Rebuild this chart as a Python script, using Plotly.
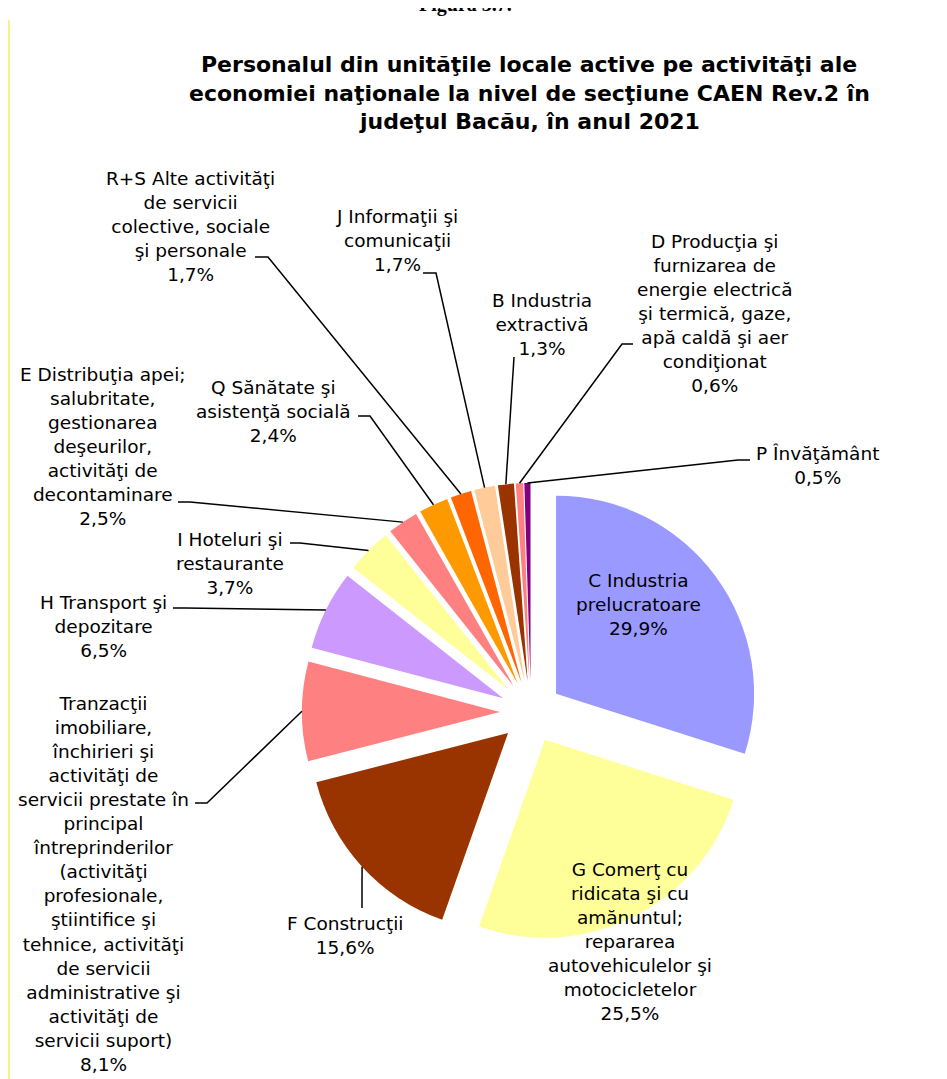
import math
import plotly.graph_objects as go

# ---------------- data ----------------
codes = ["C", "G", "F", "T", "H", "I", "E", "Q", "RS", "J", "B", "D", "P"]
label_texts = [
    "C Industria<br>prelucratoare",
    "G Comerţ cu<br>ridicata şi cu<br>amănuntul;<br>repararea<br>autovehiculelor şi<br>motocicletelor",
    "F Construcţii",
    "Tranzacţii<br>imobiliare,<br>închirieri şi<br>activităţi de<br>servicii prestate în<br>principal<br>întreprinderilor<br>(activităţi<br>profesionale,<br>ştiintifice şi<br>tehnice, activităţi<br>de servicii<br>administrative şi<br>activităţi de<br>servicii suport)",
    "H Transport şi<br>depozitare",
    "I Hoteluri şi<br>restaurante",
    "E Distribuţia apei;<br>salubritate,<br>gestionarea<br>deşeurilor,<br>activităţi de<br>decontaminare",
    "Q Sănătate şi<br>asistenţă socială",
    "R+S Alte activităţi<br>de servicii<br>colective, sociale<br>şi personale",
    "J Informaţii şi<br>comunicaţii",
    "B Industria<br>extractivă",
    "D Producţia şi<br>furnizarea de<br>energie electrică<br>şi termică, gaze,<br>apă caldă şi aer<br>condiţionat",
    "P Învăţământ",
]
values = [29.9, 25.5, 15.6, 8.1, 6.5, 3.7, 2.5, 2.4, 1.7, 1.7, 1.3, 0.6, 0.5]
colors = ["#9999FF", "#FFFF99", "#993300", "#FF8080", "#CC99FF", "#FFFF99",
          "#FF8080", "#FF9900", "#FF6600", "#FFCC99", "#993300", "#FF8080", "#800080"]

title_lines = [
    "Personalul din unităţile locale active pe activităţi ale",
    "economiei naţionale la nivel de secţiune CAEN Rev.2 în",
    "judeţul Bacău, în anul 2021",
]
figure_caption = "Figura 3.7."

# ---------------- layout geometry (page pixels) ----------------
W, H = 947, 1079
OFF = 8  # default page body margin
CX, CY, R = 531, 712, 198
PULL = 0.157

# label text centres
label_pos = {
    "C": (638, 604), "G": (630, 941), "F": (345, 935), "T": (103, 884),
    "H": (103, 626), "I": (230, 563), "E": (103, 447), "Q": (273, 411),
    "RS": (190, 226), "J": (397, 241), "B": (542, 324), "D": (715, 314),
    "P": (817, 465),
}
# leader line start point and elbow end
leader = {
    "RS": ((255, 257), (268, 257)),
    "J": ((423, 273), (436, 273)),
    "B": ((514, 357), (514, 357)),
    "D": ((633, 344), (622, 344)),
    "P": ((750, 460), (738, 460)),
    "Q": ((358, 416), (370, 416)),
    "E": ((178, 502), (190, 502)),
    "I": ((290, 543), (300, 543)),
    "H": ((173, 608), (185, 608)),
    "T": ((195, 803), (207, 803)),
    "F": ((362, 908), (362, 908)),
}


def px(x):
    return (x - OFF) / W


def py(y):
    return 1 - (y - OFF) / H


def fmt(v):
    return f"{v:.1f}".replace(".", ",") + "%"


half = R * (1 + PULL)
fig = go.Figure(go.Pie(
    labels=[t.replace("<br>", " ") for t in label_texts],
    values=values,
    marker=dict(colors=colors, line=dict(width=0)),
    pull=[PULL] * len(values),
    sort=False,
    direction="clockwise",
    rotation=0,
    textinfo="none",
    hoverinfo="label+percent",
    showlegend=False,
    domain=dict(x=[px(CX - half), px(CX + half)], y=[py(CY + half), py(CY - half)]),
))

annotations = []
shapes = []
total = sum(values)
cum = 0.0
for code, txt, v in zip(codes, label_texts, values):
    mid = (cum + v / 2) / total * 2 * math.pi
    cum += v
    tx, ty = label_pos[code]
    annotations.append(dict(
        x=px(tx), y=py(ty), xref="paper", yref="paper",
        text=f"{txt}<br>{fmt(v)}", showarrow=False, align="center",
        xanchor="center", yanchor="middle",
        font=dict(family="DejaVu Sans", size=18.5, color="black"),
    ))
    if code in leader:
        (sx, sy), (ex, ey) = leader[code]
        ox = CX + R * (1 + PULL) * math.sin(mid)
        oy = CY - R * (1 + PULL) * math.cos(mid)
        shapes.append(dict(
            type="path", xref="paper", yref="paper",
            path=f"M {px(sx)},{py(sy)} L {px(ex)},{py(ey)} L {px(ox)},{py(oy)}",
            line=dict(color="black", width=1.5),
        ))

for line, y in zip(title_lines, [64, 93, 122]):
    annotations.append(dict(
        x=px(529), y=py(y), xref="paper", yref="paper",
        text=f"<b>{line}</b>", showarrow=False, xanchor="center", yanchor="middle",
        font=dict(family="DejaVu Sans", size=22, color="black"),
    ))
annotations.append(dict(
    x=px(465), y=py(4), xref="paper", yref="paper",
    text=f"<b>{figure_caption}</b>", showarrow=False, xanchor="center", yanchor="middle",
    font=dict(family="Liberation Serif", size=20, color="black"),
))

# thin yellow page border on the left
shapes.append(dict(type="line", xref="paper", yref="paper",
                   x0=px(9), x1=px(9), y0=py(20), y1=py(H),
                   line=dict(color="#F2F05A", width=1.5)))

fig.update_layout(
    width=W, height=H,
    margin=dict(l=0, r=0, t=0, b=0),
    paper_bgcolor="white", plot_bgcolor="white",
    annotations=annotations, shapes=shapes,
)
fig.write_html("out.html")
